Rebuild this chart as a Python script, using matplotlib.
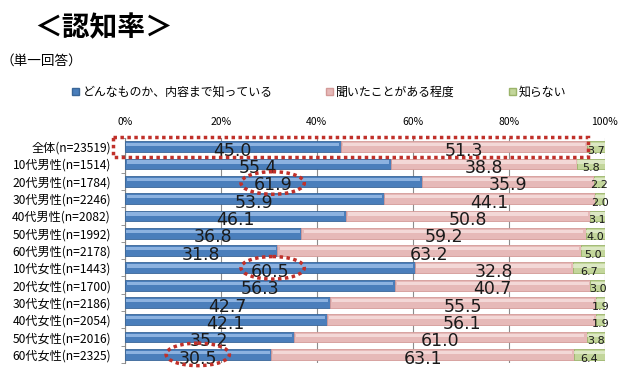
import matplotlib.pyplot as plt
from matplotlib.patches import Ellipse, Rectangle, Patch
import numpy as np

plt.rcParams['font.family'] = ['Noto Sans CJK JP', 'DejaVu Sans']

# data
groups = ['全体(n=23519)', '10代男性(n=1514)', '20代男性(n=1784)', '30代男性(n=2246)',
          '40代男性(n=2082)', '50代男性(n=1992)', '60代男性(n=2178)', '10代女性(n=1443)',
          '20代女性(n=1700)', '30代女性(n=2186)', '40代女性(n=2054)', '50代女性(n=2016)',
          '60代女性(n=2325)']
know_content = [45.0, 55.4, 61.9, 53.9, 46.1, 36.8, 31.8, 60.5, 56.3, 42.7, 42.1, 35.2, 30.5]
heard_of = [51.3, 38.8, 35.9, 44.1, 50.8, 59.2, 63.2, 32.8, 40.7, 55.5, 56.1, 61.0, 63.1]
dont_know = [3.7, 5.8, 2.2, 2.0, 3.1, 4.0, 5.0, 6.7, 3.0, 1.9, 1.9, 3.8, 6.4]
series_names = ['どんなものか、内容まで知っている', '聞いたことがある程度', '知らない']

main_cols = ['#4A7EBB', '#E6B9B8', '#C3D69B']
light_cols = ['#9DC0EA', '#F7E1E0', '#E3EDCF']
edge_cols = ['#3A6698', '#D49A98', '#9BB46A']

fig = plt.figure(figsize=(6.4, 3.77), dpi=100)
ax = fig.add_axes([0.195, 0.037, 0.75, 0.597])

y = np.arange(len(groups))
h = 0.62
left = np.zeros(len(groups))
for i, vals in enumerate([know_content, heard_of, dont_know]):
    vals = np.array(vals)
    ax.barh(y, vals, left=left, height=h, color=main_cols[i], edgecolor=edge_cols[i],
            linewidth=0.6, zorder=3)
    # light highlight for the bevelled look
    ax.barh(y - h * 0.18, vals * 0.985, left=left + vals * 0.0075, height=h * 0.3,
            color=light_cols[i], linewidth=0, alpha=0.8, zorder=4)
    for yi, l, v in zip(y, left, vals):
        fs = 8 if i == 2 else 12.5
        ax.annotate(f'{v:.1f}', (l + v / 2, yi), xytext=(0, -3), textcoords='offset points',
                    ha='center', va='center', fontsize=fs, color='#1a1a1a', zorder=6,
                    family=['Liberation Sans Narrow', 'DejaVu Sans'])
    left = left + vals

ax.set_xlim(0, 100)
ax.set_ylim(len(groups) - 0.5, -0.5)
ax.set_xticks([0, 20, 40, 60, 80, 100])
ax.set_xticklabels(['0%', '20%', '40%', '60%', '80%', '100%'], fontsize=7.5)
ax.xaxis.tick_top()
ax.tick_params(axis='x', length=0, pad=8)
ax.set_yticks(y)
ax.set_yticklabels(groups, fontsize=8.7)
ax.tick_params(axis='y', length=0, pad=10)
ax.set_yticks(np.arange(len(groups) + 1) - 0.5, minor=True)
ax.tick_params(axis='y', which='minor', length=3, color='#868686')
ax.grid(axis='x', color='#8c8c8c', linewidth=0.8, zorder=0)
for s in ['top', 'right', 'bottom']:
    ax.spines[s].set_visible(False)
ax.spines['left'].set_color('#868686')

# red dotted highlights
red = '#C0302A'
ax.add_patch(Rectangle((-2.5, -0.58), 99.0, 1.16, fill=False, edgecolor=red,
                       linestyle=(0, (1, 1)), linewidth=2.5, clip_on=False, zorder=7))
for xc, yc in [(30.8, 2.1), (30.8, 7.0), (15.2, 12.0)]:
    ax.add_patch(Ellipse((xc, yc), 13.2, 1.3, fill=False, edgecolor=red,
                         linestyle=(0, (1, 1)), linewidth=2.5, clip_on=False, zorder=7))

# titles
fig.text(0.053, 0.925, '＜認知率＞', fontsize=20, fontweight='bold', va='center', ha='left')
fig.text(0.0, 0.838, '（単一回答）', fontsize=9.8, va='center', ha='left')

handles = [Patch(facecolor=main_cols[i], edgecolor=edge_cols[i]) for i in range(3)]
fig.legend(handles, series_names, loc='center', bbox_to_anchor=(0.499, 0.755), ncol=3,
           frameon=False, fontsize=8.6, handlelength=0.6, handleheight=0.6,
           handletextpad=0.25, columnspacing=4.5)

fig.savefig('out.png', dpi=100)
